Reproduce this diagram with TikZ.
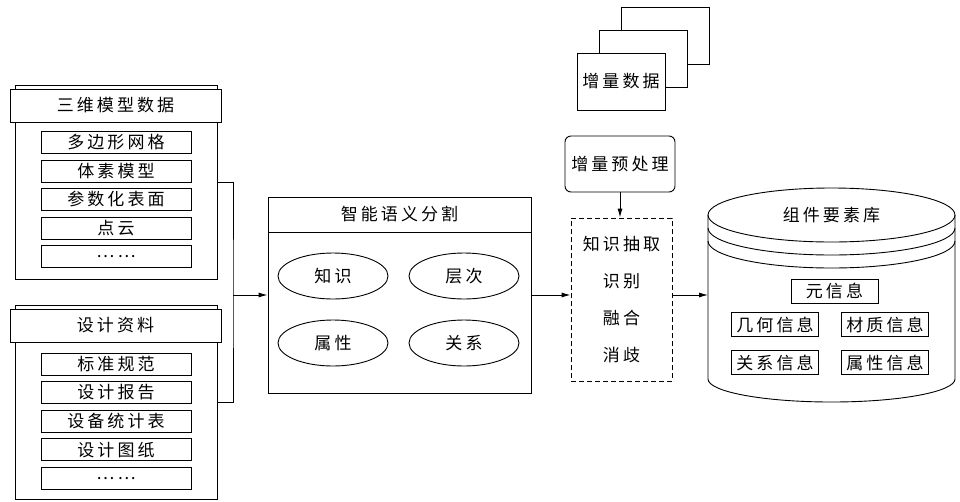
\documentclass[tikz,border=0pt]{standalone}
\usepackage{fontspec}
\newfontfamily\cjk[LetterSpace=18]{Noto Sans CJK SC}
\usetikzlibrary{shapes, arrows.meta, positioning, calc}

\begin{document}
\begin{tikzpicture}[x=1pt, y=-1pt, line width=0.9pt,
  font=\cjk\fontsize{17}{20}\selectfont,
  box/.style={draw, rectangle, inner sep=0pt, fill=white},
  item/.style={box, minimum width=150pt, minimum height=22pt},
  info/.style={box, minimum width=87pt, minimum height=24pt},
  oval/.style={draw, ellipse, inner sep=0pt, minimum width=110pt, minimum height=46pt},
  arr/.style={-{Latex[length=9pt, width=5pt]}}]
  \useasboundingbox (0,0) rectangle (960,501);
  % source data
  \node[box, minimum width=202pt, minimum height=194pt] (grpA) at (116,182) {};
  \node[box, minimum width=211pt, minimum height=33pt] (hdrA) at (115.5,105.5) {三维模型数据};
  \foreach \t [count=\i from 0] in {多边形网格,体素模型,参数化表面,点云,……}
    \node[item] (a\i) at (116,142.5+28.5*\i) {\t};
  \node[box, minimum width=202pt, minimum height=194pt] (grpB) at (116,402) {};
  \node[box, minimum width=211pt, minimum height=33pt] (hdrB) at (115.5,325.5) {设计资料};
  \foreach \t [count=\i from 0] in {标准规范,设计报告,设备统计表,设计图纸,……}
    \node[item] (b\i) at (116,364+28.6*\i) {\t};
  \coordinate (jn) at (233,295);
  \draw (grpA.east) -| (jn) |- (grpB.east);
  % segmentation
  \node[box, minimum width=263pt, minimum height=196pt] (seg) at (399.5,295) {};
  \node[box, anchor=north, minimum width=263pt, minimum height=35pt] (segh) at (seg.north) {智能语义分割};
  \foreach \t/\x/\y [count=\i] in {知识/333/276,层次/464/276,属性/333/343,关系/464/343}
    \node[oval] (o\i) at (\x,\y) {\t};
  \draw[arr] (jn) -- (seg.west);
  % incremental data
  \node[box, minimum width=88pt, minimum height=57pt] (pg2) at (665,35.5) {};
  \node[box, minimum width=88pt, minimum height=57pt] (pg1) at (643,58.5) {};
  \node[box, minimum width=88pt, minimum height=57pt] (data) at (621,81.5) {增量数据};
  \node[box, rounded corners=6pt, minimum width=110pt, minimum height=56pt] (prep) at (620,164) {增量预处理};
  \node[draw, dash pattern=on 5pt off 3pt, inner sep=0pt, minimum width=101pt, minimum height=163pt,
    align=center, font=\cjk\fontsize{17}{36.7}\selectfont] (proc) at (621.5,299.5) {知识抽取\\识别\\融合\\消歧};
  \draw[arr] (prep.south) -- (prep.south |- proc.north);
  \draw[arr] (seg.east) -- (seg.east -| proc.west);
  % component library
  \draw (708,215) -- (708,379) arc[start angle=180, end angle=360, x radius=123.5pt, y radius=23pt] -- (955,215);
  \draw (831.5,215) ellipse[x radius=123.5pt, y radius=27pt];
  \foreach \d in {13,26}
    \draw (708,215+\d) arc[start angle=180, end angle=360, x radius=123.5pt, y radius=27pt];
  \coordinate (lib) at (708,295);
  \draw[arr] (seg.east -| proc.east) -- (lib);
  \node (libt) at (831.5,215) {组件要素库};
  \node[info] (meta) at (834.5,291) {元信息};
  \foreach \t/\x/\y [count=\i] in {几何信息/775/324.5,材质信息/885/324.5,关系信息/775/362.5,属性信息/885/362.5}
    \node[info] (c\i) at (\x,\y) {\t};
\end{tikzpicture}
\end{document}
